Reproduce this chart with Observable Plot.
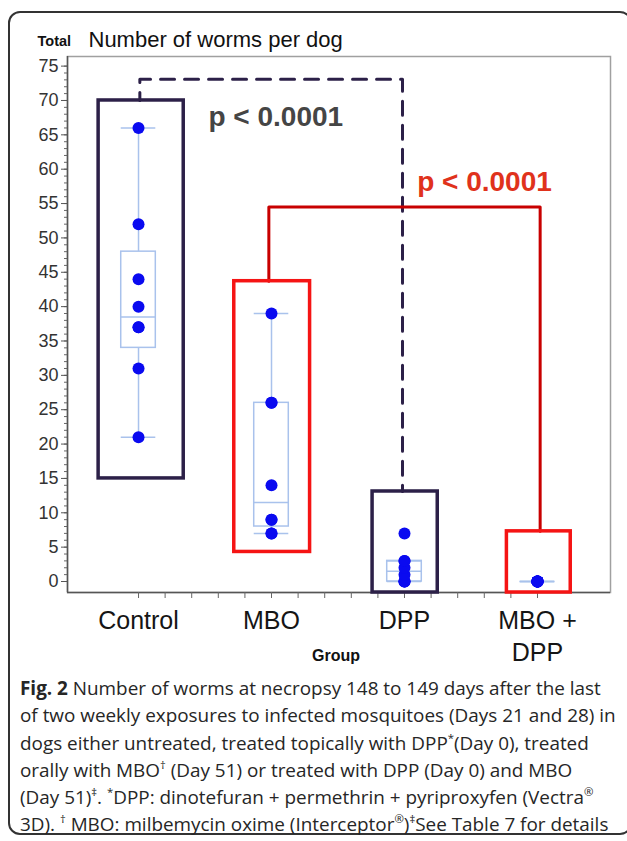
<!DOCTYPE html>
<html><head><meta charset="utf-8">
<script src="https://cdn.jsdelivr.net/npm/d3@7"></script>
<script src="https://cdn.jsdelivr.net/npm/@observablehq/plot@0.6"></script>
<style>
body{margin:0;background:#fff;width:627px;height:841px;position:relative;overflow:hidden;font-family:"Liberation Sans",Arial,sans-serif}
#frame{position:absolute;left:8px;top:11px;width:624px;height:824px;border:2px solid #333;border-radius:12px;box-sizing:border-box}
#chart{position:absolute;left:0;top:0}
#caption{position:absolute;left:20px;top:675px;font-family:"Open Sans",sans-serif;font-size:18.9px;line-height:27.3px;color:#262626;white-space:nowrap}
#caption sup{font-size:60%;line-height:0;vertical-align:0.7em}
</style></head><body>
<div id="frame"></div>
<div id="chart"></div>
<div id="caption"><b>Fig. 2</b> Number of worms at necropsy 148 to 149 days after the last<br>of two weekly exposures to infected mosquitoes (Days 21 and 28) in<br>dogs either untreated, treated topically with DPP<sup>*</sup>(Day 0), treated<br>orally with MBO<sup>†</sup> (Day 51) or treated with DPP (Day 0) and MBO<br>(Day 51)<sup>‡</sup>. <sup>*</sup>DPP: dinotefuran + permethrin + pyriproxyfen (Vectra<sup>®</sup><br>3D). <sup>†</sup> MBO: milbemycin oxime (Interceptor<sup>®</sup>)<sup>‡</sup>See Table 7 for details</div>
<script>
// ---- data ----
const groups = ["Control", "MBO", "DPP", "MBO +\nDPP"];
const controlWorms = [21, 31, 37, 37, 40, 44, 52, 66];
const mboWorms = [7, 7, 9, 9, 14, 26, 26, 39];
const dppWorms = [0, 0, 0, 1, 2, 3, 3, 7];
const comboWorms = [0, 0, 0, 0, 0, 0, 0, 0];
// box-plot statistics (as drawn)
const boxQ1 = [34, 8, 0, 0];
const boxMedian = [38.5, 11.5, 1.5, 0];
const boxQ3 = [48, 26, 3, 0];
const whiskerLow = [21, 7, 0, 0];
const whiskerHigh = [66, 39, 3, 0];
// highlight frames around each group (data units)
const frameLeft = [0.70, 1.72, 2.76, 3.77];
const frameRight = [1.34, 2.29, 3.25, 4.25];
const frameTop = [70, 43.7, 13.1, 7.3];
const frameBottom = [15, 4.3, -1.6, -1.6];
// comparison brackets
const dashX = [1.01, 1.01, 2.985, 2.985];
const dashY = [70, 73.1, 73.1, 13.1];
const redX = [1.98, 1.98, 4.02, 4.02];
const redY = [43.7, 54.5, 54.5, 7.3];
const pLabels = ["p < 0.0001", "p < 0.0001"];
const pX = [1.526, 3.095];
const pY = [67.6, 58.15];
const yMajorTicks = d3.range(0, 76, 5);
const yMinorTicks = d3.range(0, 76, 1);
const xMinorTicks = d3.range(0, 16).map(i => 1 + i * 0.2);

// ---- tables built from arrays ----
const allWorms = [controlWorms, mboWorms, dppWorms, comboWorms];
const points = allWorms.flatMap((arr, i) => arr.map(v => ({g: i + 1, v})));
const half = 0.13;
const stats = groups.map((name, i) => ({
  g: i + 1, name, q1: boxQ1[i], med: boxMedian[i], q3: boxQ3[i],
  lo: whiskerLow[i], hi: whiskerHigh[i]
}));
const frames = groups.map((name, i) => ({
  x1: frameLeft[i], x2: frameRight[i], y1: frameBottom[i], y2: frameTop[i], red: name.includes("MBO")
}));
const dashPts = dashX.map((x, i) => ({x, y: dashY[i]}));
const redPts = redX.map((x, i) => ({x, y: redY[i]}));
const pTable = pLabels.map((t, i) => ({t, x: pX[i], y: pY[i], red: i === 1}));

const xDomain = [0.466, 4.549];
const yDomain = [-1.6, 76.4];
const dark = "#2c2048";
const boxBlue = "#a9c2ec";

const chart = Plot.plot({
  width: 627, height: 670,
  marginLeft: 67, marginRight: 17, marginTop: 56, marginBottom: 78,
  x: {domain: xDomain},
  y: {domain: yDomain},
  style: {fontFamily: "'Liberation Sans', Arial, sans-serif", background: "transparent", overflow: "visible"},
  marks: [
    Plot.frame({stroke: "#a0a0a0", strokeWidth: 1.5}),
    Plot.ruleX([xDomain[0]], {stroke: "#555", strokeWidth: 1.5}),
    Plot.ruleY([yDomain[0]], {stroke: "#555", strokeWidth: 1.5}),
    Plot.axisY({ticks: yMinorTicks, tickSize: 3, tickFormat: () => "", label: null, stroke: "#666"}),
    Plot.axisY({ticks: yMajorTicks, tickSize: 6, tickPadding: 3, fontSize: 18, label: null, stroke: "#555", fill: "#333"}),
    Plot.axisX({ticks: xMinorTicks, tickSize: 6, tickFormat: () => "", label: null, stroke: "#666"}),
    Plot.text(stats, {x: "g", text: "name", frameAnchor: "bottom", lineAnchor: "top", dy: 14, fontSize: 25, lineHeight: 1.28, fill: "#151515"}),
    Plot.text(["Group"], {frameAnchor: "bottom", lineAnchor: "middle", dy: 63, dx: -3, fontSize: 16, fontWeight: "bold", fill: "#111"}),
    Plot.text(["Total"], {frameAnchor: "top-left", lineAnchor: "middle", textAnchor: "start", dx: -30, dy: -15, fontSize: 14.5, fontWeight: "bold", fill: "#111"}),
    Plot.text(["Number of worms per dog"], {frameAnchor: "top-left", lineAnchor: "middle", textAnchor: "start", dx: 21, dy: -17, fontSize: 22, fill: "#111"}),
    // brackets
    Plot.line(dashPts, {x: "x", y: "y", stroke: dark, strokeWidth: 3, strokeDasharray: "14,10", strokeDashoffset: 6}),
    Plot.line(redPts, {x: "x", y: "y", stroke: "#c80000", strokeWidth: 3, strokeLinejoin: "round"}),
    // inner box plots
    Plot.ruleX(stats, {x: "g", y1: "q3", y2: "hi", stroke: boxBlue, strokeWidth: 1.5}),
    Plot.ruleX(stats, {x: "g", y1: "lo", y2: "q1", stroke: boxBlue, strokeWidth: 1.5}),
    Plot.ruleY(stats, {y: "hi", x1: d => d.g - half, x2: d => d.g + half, stroke: boxBlue, strokeWidth: 1.5}),
    Plot.ruleY(stats, {y: "lo", x1: d => d.g - half, x2: d => d.g + half, stroke: boxBlue, strokeWidth: 1.5}),
    Plot.rect(stats, {x1: d => d.g - half, x2: d => d.g + half, y1: "q1", y2: "q3", fill: "none", stroke: boxBlue, strokeWidth: 1.5}),
    Plot.ruleY(stats, {y: "med", x1: d => d.g - half, x2: d => d.g + half, stroke: boxBlue, strokeWidth: 1.5}),
    // highlight frames
    Plot.rect(frames.filter(d => !d.red), {x1: "x1", x2: "x2", y1: "y1", y2: "y2", fill: "none", stroke: dark, strokeWidth: 3.5}),
    Plot.rect(frames.filter(d => d.red), {x1: "x1", x2: "x2", y1: "y1", y2: "y2", fill: "none", stroke: "#f51414", strokeWidth: 3.5}),
    // points
    Plot.dot(points, {x: "g", y: "v", r: 6, fill: "#0a0af0", stroke: "none"}),
    // p values
    Plot.text(pTable.filter(d => !d.red), {x: "x", y: "y", text: "t", textAnchor: "start", fontSize: 28, fontWeight: "bold", fill: "#454545"}),
    Plot.text(pTable.filter(d => d.red), {x: "x", y: "y", text: "t", textAnchor: "start", fontSize: 28, fontWeight: "bold", fill: "#e0321c"})
  ]
});
document.getElementById("chart").appendChild(chart);
</script>
</body></html>
